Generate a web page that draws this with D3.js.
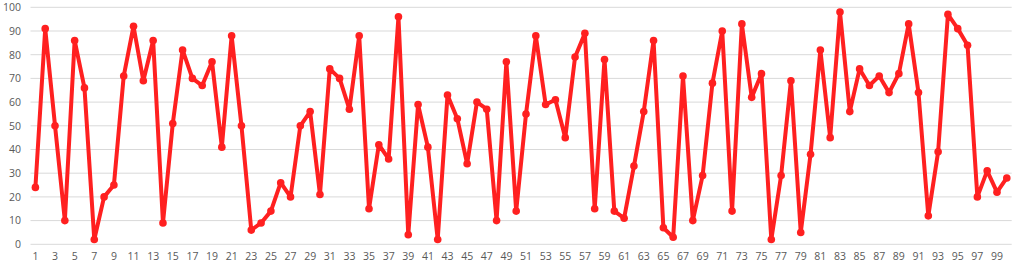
<!DOCTYPE html>
<html><head><meta charset="utf-8">
<script src="https://cdn.jsdelivr.net/npm/d3@7"></script>
<style>
html,body{margin:0;padding:0;background:#fff;}
svg{display:block;}
</style></head>
<body>
<svg id="chart" width="1024" height="269"></svg>
<script>
const categories = d3.range(1, 101);
const values = [24,91,50,10,86,66,2,20,25,71,92,69,86,9,51,82,70,67,77,41,
88,50,6,9,14,26,20,50,56,21,74,70,57,88,15,42,36,96,4,59,
41,2,63,53,34,60,57,10,77,14,55,88,59,61,45,79,89,15,78,14,
11,33,56,86,7,3,71,10,29,68,90,14,93,62,72,2,29,69,5,38,
82,45,98,56,74,67,71,64,72,93,64,12,39,97,91,84,20,31,22,28];
const yTicks = [0,10,20,30,40,50,60,70,80,90,100];
const xTickLabels = categories.filter(c => c % 2 === 1);

(function () {
const svg = d3.select("#chart");
const mLeft = 30.5, mRight = 1011.7, mTop = 7.3, mBottom = 244.3;

const x = d3.scaleBand().domain(categories).range([mLeft, mRight]);
const y = d3.scaleLinear().domain([0, 100]).range([mBottom, mTop]);

const font = "'Open Sans', 'Liberation Sans', sans-serif";

svg.append("g").selectAll("line").data(yTicks).join("line")
  .attr("x1", mLeft).attr("x2", mRight)
  .attr("y1", d => y(d)).attr("y2", d => y(d))
  .attr("stroke", "#d9d9d9").attr("stroke-width", 1);

const yAxis = d3.axisLeft(y).tickValues(yTicks).tickSize(0).tickPadding(0);
const gy = svg.append("g").attr("transform", "translate(21,0)").call(yAxis);
gy.select(".domain").remove();
gy.selectAll("text").attr("fill", "#595959").attr("font-size", 10.5).attr("font-family", font);

const xAxis = d3.axisBottom(x).tickValues(xTickLabels).tickSize(0).tickPadding(0);
const gx = svg.append("g").attr("transform", "translate(0,253)").call(xAxis);
gx.select(".domain").remove();
gx.selectAll("text").attr("fill", "#595959").attr("font-size", 10.5).attr("font-family", font);

const cx = d => x(d) + x.bandwidth() / 2;
const data = categories.map((c, i) => ({c, v: values[i]}));

svg.append("path").datum(data)
  .attr("fill", "none").attr("stroke", "#ff2020").attr("stroke-width", 4)
  .attr("stroke-linejoin", "round")
  .attr("d", d3.line().x(d => cx(d.c)).y(d => y(d.v)));

svg.append("g").selectAll("circle").data(data).join("circle")
  .attr("cx", d => cx(d.c)).attr("cy", d => y(d.v)).attr("r", 3.8)
  .attr("fill", "#ff2020");
})();
</script>
</body></html>
